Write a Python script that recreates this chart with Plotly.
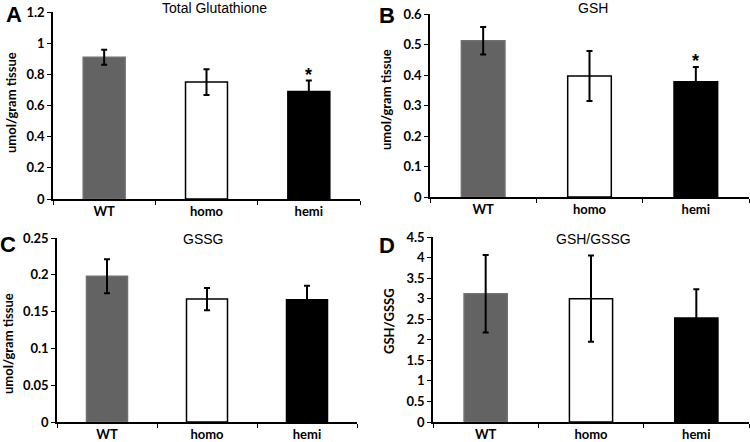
import plotly.graph_objects as go

categories = ["WT", "homo", "hemi"]

total_glut = [0.91, 0.75, 0.69]
total_glut_err = [0.048, 0.083, 0.07]

gsh = [0.512, 0.397, 0.378]
gsh_err = [0.045, 0.082, 0.048]

gssg = [0.198, 0.167, 0.166]
gssg_err = [0.023, 0.015, 0.019]

ratio = [3.12, 3.0, 2.53]
ratio_err = [0.94, 1.05, 0.7]

panel_titles = ["Total Glutathione", "GSH", "GSSG", "GSH/GSSG"]
panel_letters = ["A", "B", "C", "D"]
y_titles = ["umol/gram tissue", "umol/gram tissue", "umol/gram tissue", "GSH/GSSG"]
y_ranges = [[0, 1.2], [0, 0.6], [0, 0.25], [0, 4.5]]
y_dticks = [0.2, 0.1, 0.05, 0.5]

fill_colors = ["#636363", "#ffffff", "#000000"]
line_colors = ["#707070", "#000000", "#000000"]

W, H = 750, 442


def px_x(v):
    return v / W


def px_y(v):
    return 1 - v / H


# domains in pixels: (x0, x1, ytop, ybottom)
doms = [(53, 360, 12, 199), (430, 749, 14, 197), (57, 357, 238, 422), (433, 749, 237, 422)]

fig = go.Figure()
series = [(total_glut, total_glut_err), (gsh, gsh_err), (gssg, gssg_err), (ratio, ratio_err)]

for i, (vals, errs) in enumerate(series):
    n = i + 1
    xa = "x" if n == 1 else f"x{n}"
    ya = "y" if n == 1 else f"y{n}"
    fig.add_trace(go.Bar(
        x=categories, y=vals, xaxis=xa, yaxis=ya,
        marker=dict(color=fill_colors, line=dict(color=line_colors, width=1.5)),
        error_y=dict(type="data", array=errs, visible=True, color="#000000", thickness=2, width=3),
        showlegend=False, width=0.41,
    ))
    x0, x1, yt, yb = doms[i]
    fig.layout[f"xaxis{'' if n == 1 else n}"] = dict(
        domain=[px_x(x0), px_x(x1)], anchor=ya, showline=True, linecolor="#000000",
        linewidth=1.5, ticks="outside", tickson="boundaries", ticklen=4, tickcolor="#000000",
        showgrid=False, zeroline=False, automargin=False,
        tickfont=dict(family="Lato", size=13, color="#000000", weight="bold"), range=[-0.5, 2.5],
    )
    fig.layout[f"yaxis{'' if n == 1 else n}"] = dict(
        domain=[px_y(yb), px_y(yt)], anchor=xa, showline=True, linecolor="#000000",
        linewidth=1.5, ticks="outside", ticklen=4, tickcolor="#000000",
        showgrid=False, zeroline=False, automargin=False,
        tickfont=dict(family="Lato", size=13, color="#000000", weight="bold"), range=y_ranges[i],
        dtick=y_dticks[i], tick0=0,
    )

annotations = []
# panel letters
letter_pos = [(14, 15), (387, 16), (8, 244), (387, 245)]
for (lx, ly), t in zip(letter_pos, panel_letters):
    annotations.append(dict(x=px_x(lx), y=px_y(ly), xref="paper", yref="paper", text=t,
                            showarrow=False, font=dict(family="Liberation Sans", size=22, color="#000000", weight="bold"),
                            xanchor="center", yanchor="middle"))
# titles
title_pos = [(214, 8), (593, 8), (203, 239), (593, 239)]
for (tx, ty), t in zip(title_pos, panel_titles):
    annotations.append(dict(x=px_x(tx), y=px_y(ty), xref="paper", yref="paper", text=t,
                            showarrow=False, font=dict(family="Liberation Sans", size=14, color="#000000"),
                            xanchor="center", yanchor="middle"))
# y titles
yt_pos = [(11, 103), (386, 100), (8, 344), (389, 321)]
for (tx, ty), t in zip(yt_pos, y_titles):
    annotations.append(dict(x=px_x(tx), y=px_y(ty), xref="paper", yref="paper", text=t, textangle=-90,
                            showarrow=False, font=dict(family="Lato", size=13, color="#000000", weight="bold"),
                            xanchor="center", yanchor="middle"))
# significance asterisks
annotations.append(dict(x="hemi", y=total_glut[2] + total_glut_err[2], xref="x", yref="y", text="*",
                        showarrow=False, yanchor="bottom", yshift=-6,
                        font=dict(family="Liberation Sans", size=18, color="#000000", weight="bold")))
annotations.append(dict(x="hemi", y=gsh[2] + gsh_err[2], xref="x2", yref="y2", text="*",
                        showarrow=False, yanchor="bottom", yshift=-6,
                        font=dict(family="Liberation Sans", size=18, color="#000000", weight="bold")))

fig.update_layout(width=W, height=H, margin=dict(l=0, r=0, t=0, b=0),
                  paper_bgcolor="#ffffff", plot_bgcolor="#ffffff", annotations=annotations)

fig.write_html("out.html", config={"displayModeBar": False},
               post_script="document.body.style.margin='0';document.body.style.overflow='hidden';")
